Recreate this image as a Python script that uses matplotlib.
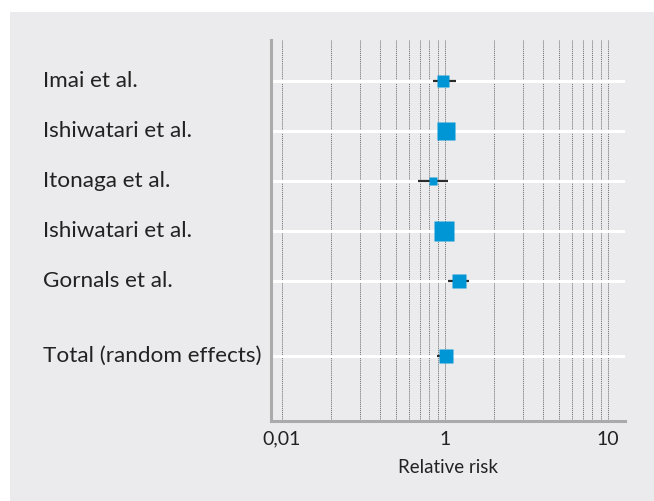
import numpy as np
import matplotlib.pyplot as plt
from matplotlib.transforms import blended_transform_factory
from matplotlib.patches import Rectangle

# Data
studies = ["Imai et al.",
		   "Ishiwatari et al.",
		   "Itonaga et al.",
		   "Ishiwatari et al.",
		   "Gornals et al.",
		   "Total (random effects)"]
row_pos = [0, 1, 2, 3, 4, 5.5]
rr = [0.97, 1.02, 0.84, 0.99, 1.22, 1.01]
ci_low = [0.84, 0.95, 0.68, 0.92, 1.05, 0.89]
ci_high = [1.17, 1.10, 1.05, 1.07, 1.41, 1.12]
weights = [11.8, 29.5, 6.6, 36.1, 16.0, 16.0]   # percent, total drawn with mean size
tick_vals = [0.1, 1, 10]
tick_labels = ["0,01", "1", "10"]

plt.rcParams['font.family'] = ['Lato', 'DejaVu Sans']

bg = '#ebebed'
fig = plt.figure(figsize=(6.54, 5.01), dpi=100)
fig.patches.append(Rectangle((10/654., 0), 1, 1 - 12/501., transform=fig.transFigure,
							 facecolor=bg, edgecolor='none', zorder=-10))

ax = fig.add_axes([271/654., 1 - 421/501., (625-271)/654., (421-40)/501.])
ax.set_facecolor(bg)
ax.set_xscale('log')
ax.set_xlim(0.0856, 12.7)
ax.set_ylim(6.8, -0.82)

# vertical dotted grid
grid_x = np.concatenate([np.arange(1, 10) * 0.1, np.arange(1, 11) * 1.0])
for gx in grid_x:
	ax.axvline(gx, color='#707070', lw=0.65, ls=(0, (1.3, 1.0)), zorder=1)

# white row lines
for y in row_pos:
	ax.axhline(y, color='white', lw=2.2, zorder=2)

# CI and squares
for i in range(len(studies)):
	ax.plot([ci_low[i], ci_high[i]], [row_pos[i], row_pos[i]], color='#2b2b2b', lw=1.6,
			solid_capstyle='butt', zorder=3)
	ms = 2.5 * np.sqrt(weights[i])
	ax.plot(rr[i], row_pos[i], marker='s', ms=ms, color='#0096d6', mec='none', zorder=4)

# study labels
trans = blended_transform_factory(fig.transFigure, ax.transData)
for name, y in zip(studies, row_pos):
	ax.text(43/654., y, name, transform=trans, ha='left', va='center', fontsize=16.2,
			color='#222222')

ax.set_xticks(tick_vals)
ax.set_xticklabels(tick_labels, fontsize=14, color='#222222')
ax.xaxis.set_minor_locator(plt.NullLocator())
ax.tick_params(axis='x', length=0, pad=7)
ax.set_yticks([])
ax.set_xlabel('Relative risk', fontsize=13.5, color='#222222', labelpad=8)

for s in ['top', 'right']:
	ax.spines[s].set_visible(False)
for s in ['left', 'bottom']:
	ax.spines[s].set_color('#aaaaaa')
	ax.spines[s].set_linewidth(2.2)

fig.savefig('out.png', dpi=100, facecolor='white')
